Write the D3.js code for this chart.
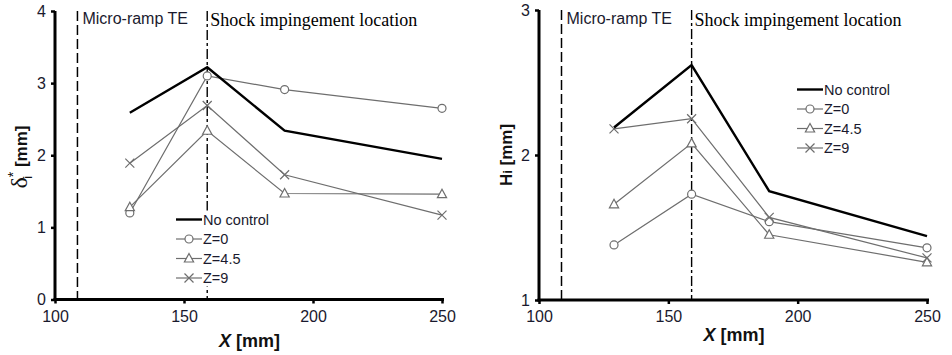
<!DOCTYPE html>
<html>
<head>
<meta charset="utf-8">
<script src="https://cdn.jsdelivr.net/npm/d3@7"></script>
<style>
  body { margin: 0; background: #fff; }
  svg { display: block; }
</style>
</head>
<body>
<svg width="952" height="355"></svg>
<script>
// measurement stations along the plate (mm)
const xPos = [129, 159, 189, 250];
const seriesNames = ["No control", "Z=0", "Z=4.5", "Z=9"];
const xTicks = [100, 150, 200, 250];
const rampTE = 108.7;
const shockX = 159;

// left panel: incompressible displacement thickness
const leftNoControl = [2.59, 3.22, 2.34, 1.95];
const leftZ0 = [1.20, 3.10, 2.91, 2.65];
const leftZ45 = [1.28, 2.34, 1.47, 1.46];
const leftZ9 = [1.89, 2.69, 1.73, 1.17];
const leftYTicks = [0, 1, 2, 3, 4];

// right panel: incompressible shape factor
const rightNoControl = [2.19, 2.62, 1.75, 1.44];
const rightZ0 = [1.38, 1.73, 1.54, 1.36];
const rightZ45 = [1.66, 2.08, 1.45, 1.26];
const rightZ9 = [2.18, 2.25, 1.57, 1.29];
const rightYTicks = [1, 2, 3];

const markers = ["none", "circle", "triangle", "cross"];
const grey = "#6e6e6e";

let svg = d3.select("svg");

function drawMarker(g, type, cx, cy) {
    if (type === "circle") {
        g.append("circle").attr("cx", cx).attr("cy", cy).attr("r", 4)
            .attr("fill", "#fff").attr("stroke", grey).attr("stroke-width", 1.2);
    } else if (type === "triangle") {
        g.append("path")
            .attr("d", `M${cx},${cy - 5}L${cx + 4.6},${cy + 3.5}L${cx - 4.6},${cy + 3.5}Z`)
            .attr("fill", "#fff").attr("stroke", grey).attr("stroke-width", 1.2);
    } else if (type === "cross") {
        g.append("path")
            .attr("d", `M${cx - 4.5},${cy - 4.5}L${cx + 4.5},${cy + 4.5}M${cx - 4.5},${cy + 4.5}L${cx + 4.5},${cy - 4.5}`)
            .attr("stroke", grey).attr("stroke-width", 1.2);
    }
}

function panel(opts) {
    let x = d3.scaleLinear().domain([100, 250]).range(opts.xRange);
    let y = d3.scaleLinear().domain(opts.yDomain).range(opts.yRange);
    let g = svg.append("g");

    // reference lines
    g.append("line")
        .attr("x1", x(rampTE)).attr("x2", x(rampTE))
        .attr("y1", y.range()[1]).attr("y2", y.range()[0])
        .attr("stroke", "#000").attr("stroke-width", 1.5)
        .attr("stroke-dasharray", "10,4");
    g.append("line")
        .attr("x1", x(shockX)).attr("x2", x(shockX))
        .attr("y1", y.range()[1]).attr("y2", y.range()[0])
        .attr("stroke", "#000").attr("stroke-width", 1.4)
        .attr("stroke-dasharray", "10,3,3,3");

    g.append("text")
        .attr("x", x(rampTE) + 5).attr("y", opts.labelY)
        .attr("font-family", "Liberation Sans, Arial, sans-serif")
        .attr("font-size", 16).attr("fill", "#1a1a2e")
        .text("Micro-ramp TE");
    g.append("text")
        .attr("x", x(shockX) + 3).attr("y", opts.labelY + 2)
        .attr("font-family", "Liberation Serif, Times New Roman, serif")
        .attr("font-size", 18).attr("fill", "#000")
        .text("Shock impingement location");

    let line = d3.line().x((d, i) => x(xPos[i])).y(d => y(d));

    // grey series first, then no-control on top
    opts.series.forEach((vals, k) => {
        if (k === 0) return;
        g.append("path").datum(vals)
            .attr("d", line).attr("fill", "none")
            .attr("stroke", grey).attr("stroke-width", 1.2);
        vals.forEach((v, i) => drawMarker(g, markers[k], x(xPos[i]), y(v)));
    });
    g.append("path").datum(opts.series[0])
        .attr("d", line).attr("fill", "none")
        .attr("stroke", "#000").attr("stroke-width", 2.4);

    // legend
    let lg = g.append("g").attr("transform", `translate(${opts.legend[0]},${opts.legend[1]})`);
    lg.append("rect").attr("x", -2).attr("y", -9).attr("width", 96).attr("height", 76).attr("fill", "#fff");
    seriesNames.forEach((name, k) => {
        let ly = k * 19.5;
        lg.append("line").attr("x1", 0).attr("x2", 26).attr("y1", ly).attr("y2", ly)
            .attr("stroke", k === 0 ? "#000" : grey).attr("stroke-width", k === 0 ? 2.4 : 1.2);
        drawMarker(lg, markers[k], 13, ly);
        lg.append("text").attr("x", 27).attr("y", ly).attr("dy", "0.35em")
            .attr("font-family", "Liberation Sans, Arial, sans-serif")
            .attr("font-size", 14.5).attr("fill", "#1a1a2e")
            .text(name);
    });

    // axes
    let ax = g.append("g").attr("transform", `translate(0,${y.range()[0]})`)
        .call(d3.axisBottom(x).tickValues(xTicks).tickFormat(d3.format("d"))
            .tickSize(4).tickSizeOuter(0).tickPadding(7));
    let ay = g.append("g").attr("transform", `translate(${x.range()[0]},0)`)
        .call(d3.axisLeft(y).tickValues(opts.yTicks).tickFormat(d3.format("d"))
            .tickSize(4).tickSizeOuter(0).tickPadding(5));
    [ax, ay].forEach(a => {
        a.select(".domain").attr("stroke", "#000").attr("stroke-width", 3);
        a.selectAll(".tick line").attr("stroke", "#000").attr("stroke-width", 2.5);
        a.selectAll(".tick text")
            .attr("font-family", "Liberation Sans, Arial, sans-serif")
            .attr("font-size", 16).attr("fill", "#1a1a2e");
    });
    ay.select(".domain").attr("d", `M0,${y.range()[1]}V${y.range()[0] + 1.5}`);
    ax.select(".domain").attr("d", `M${x.range()[0] - 1.5},0H${x.range()[1] + 2}`);

    // axis titles
    let xt = g.append("text")
        .attr("x", (x.range()[0] + x.range()[1]) / 2 + 1).attr("y", opts.xTitleY)
        .attr("text-anchor", "middle")
        .attr("font-family", "Liberation Sans, Arial, sans-serif")
        .attr("font-size", 18).attr("font-weight", "bold").attr("fill", "#111");
    xt.append("tspan").attr("font-style", "italic").text("X");
    xt.append("tspan").text(" [mm]");

    let yt = g.append("text")
        .attr("transform", `translate(${opts.yTitleX},${opts.yTitleY}) rotate(-90)`)
        .attr("text-anchor", "middle")
        .attr("font-family", "Liberation Sans, Arial, sans-serif")
        .attr("font-size", 17).attr("font-weight", "bold").attr("fill", "#111");
    opts.yTitle(yt);
}

panel({
    xRange: [55, 442], yDomain: [0, 4], yRange: [299.5, 11],
    series: [leftNoControl, leftZ0, leftZ45, leftZ9], yTicks: leftYTicks,
    labelY: 24, legend: [176, 219.5], xTitleY: 347,
    yTitleX: 27, yTitleY: 157,
    yTitle: t => {
        t.append("tspan").attr("font-weight", "normal").attr("font-family", "Liberation Serif, serif")
            .attr("font-size", 24).text("δ");
        t.append("tspan").attr("dy", -9).attr("font-size", 14).attr("font-weight", "normal").text("*");
        t.append("tspan").attr("dx", -7).attr("dy", 14).attr("font-size", 13).attr("font-weight", "normal").text("i");
        t.append("tspan").attr("dx", 4).attr("dy", -5).text(" [mm]");
    }
});

panel({
    xRange: [539, 927], yDomain: [1, 3], yRange: [300, 10],
    series: [rightNoControl, rightZ0, rightZ45, rightZ9], yTicks: rightYTicks,
    labelY: 24, legend: [797, 89.5], xTitleY: 341,
    yTitleX: 512, yTitleY: 155,
    yTitle: t => {
        t.append("tspan").text("H");
        t.append("tspan").attr("font-size", 13).text("i");
        t.append("tspan").text(" [mm]");
    }
});
</script>
</body>
</html>
